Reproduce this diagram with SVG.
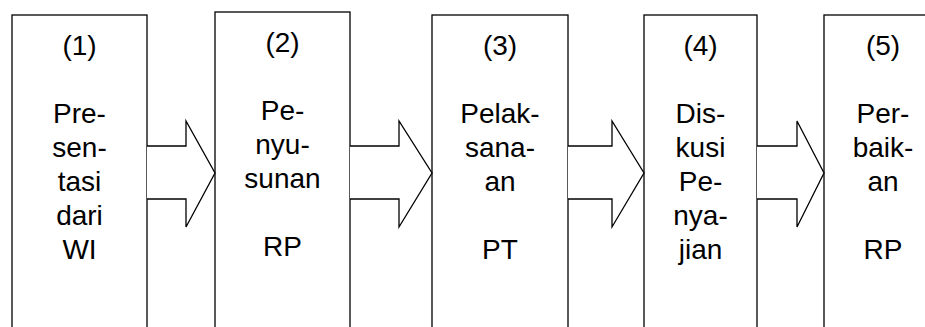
<svg xmlns="http://www.w3.org/2000/svg" width="925" height="327" viewBox="0 0 925 327">
<style>
.box{fill:#fff;stroke:#000;stroke-width:1.3}
.arr{fill:#fff;stroke:#000;stroke-width:1.3;stroke-linejoin:miter}
text{font-family:"Liberation Sans",Arial,sans-serif;font-size:28px;fill:#000;text-anchor:middle}
</style>
<rect width="925" height="327" fill="#fff"/>
<g id="node1">
<rect class="box" x="12" y="15" width="135" height="330"/>
<text x="79.5" y="55">(1)</text>
<text x="79.5" y="123">Pre-</text>
<text x="79.5" y="157">sen-</text>
<text x="79.5" y="191">tasi</text>
<text x="79.5" y="225">dari</text>
<text x="79.5" y="259">WI</text>
</g>
<g id="node2">
<rect class="box" x="215" y="12" width="135" height="333"/>
<text x="282.5" y="52">(2)</text>
<text x="282.5" y="120">Pe-</text>
<text x="282.5" y="154">nyu-</text>
<text x="282.5" y="188">sunan</text>
<text x="282.5" y="256">RP</text>
</g>
<g id="node3">
<rect class="box" x="432" y="15" width="136" height="330"/>
<text x="500" y="55">(3)</text>
<text x="500" y="123">Pelak-</text>
<text x="500" y="157">sana-</text>
<text x="500" y="191">an</text>
<text x="500" y="259">PT</text>
</g>
<g id="node4">
<rect class="box" x="644" y="15" width="113" height="330"/>
<text x="700.5" y="55">(4)</text>
<text x="700.5" y="123">Dis-</text>
<text x="700.5" y="157">kusi</text>
<text x="700.5" y="191">Pe-</text>
<text x="700.5" y="225">nya-</text>
<text x="700.5" y="259">jian</text>
</g>
<g id="node5">
<rect class="box" x="824" y="15" width="118" height="330"/>
<text x="883" y="55">(5)</text>
<text x="883" y="123">Per-</text>
<text x="883" y="157">baik-</text>
<text x="883" y="191">an</text>
<text x="883" y="259">RP</text>
</g>
<g id="connectors">
<polyline class="arr" points="147,146 186,146 186,121 215,173 186,227 186,199 147,199"/>
<polyline class="arr" points="350,146 399,146 399,121 432,173 399,227 399,199 350,199"/>
<polyline class="arr" points="568,146 612,146 612,121 644,173 612,227 612,199 568,199"/>
<polyline class="arr" points="757,146 797,146 797,121 824,173 797,227 797,199 757,199"/>
</g>
</svg>
